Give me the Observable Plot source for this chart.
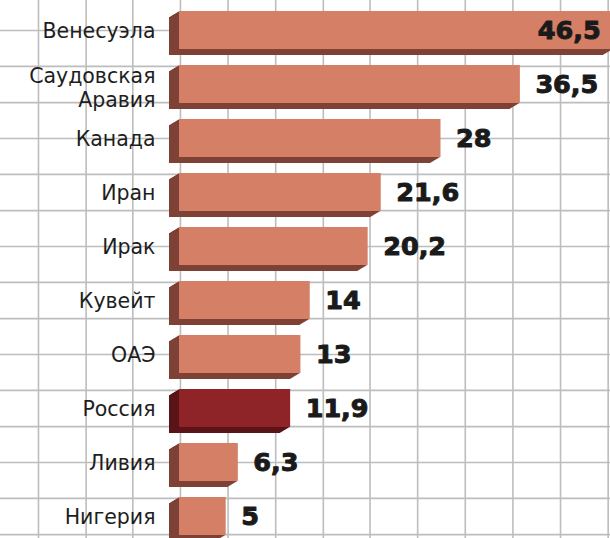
<!DOCTYPE html>
<html>
<head>
<meta charset="utf-8">
<script src="https://cdn.jsdelivr.net/npm/d3@7"></script>
<script src="https://cdn.jsdelivr.net/npm/@observablehq/plot@0.6"></script>
<style>
  html, body { margin: 0; padding: 0; background: #fff; overflow: hidden; }
  #chart svg { display: block; }
</style>
</head>
<body>
<div id="chart"></div>
<script>
// ---- data ----
const categories = ["Венесуэла", "Саудовская\nАравия", "Канада", "Иран", "Ирак", "Кувейт", "ОАЭ", "Россия", "Ливия", "Нигерия"];
const values = [46.5, 36.5, 28, 21.6, 20.2, 14, 13, 11.9, 6.3, 5];
const highlight = "Россия";
// background graph-paper lines, in value units
const gridXTicks = [-15.1, -10.0, -5.0, 0.1, 5.2, 10.3, 15.4, 20.4, 25.5, 30.6, 35.7, 40.8, 45.9];

// ---- styling ----
const FRONT = "#d47f66", SIDE = "#7d4135";
const FRONT_HI = "#8e2428", SIDE_HI = "#5a1418";
const GRID = "#bdbdbd";
const STEP = 54.5;

const data = categories.map((c, i) => ({name: c, value: values[i], hi: c === highlight}));
const even = categories.filter((d, i) => i % 2 === 0);
const odd = categories.filter((d, i) => i % 2 === 1);

const fmt = v => String(v).replace(".", ",");

const gridH = {x1: -25, x2: 50, stroke: GRID, strokeWidth: 1.6};
const shadowMarks = [];
for (let k = 1; k <= 10; k++) {
  shadowMarks.push(Plot.barX(data, {
    x: "value", y: "name", dx: -k, dy: 0.6 * k,
    fill: d => d.hi ? SIDE_HI : SIDE
  }));
}

const labelOpts = {
  y: d => d, text: d => d, frameAnchor: "left", textAnchor: "end", dx: -24,
  fontFamily: "'DejaVu Sans', sans-serif", fontSize: 20.5, fill: "#1e1e1e", lineHeight: 1.14
};
const valueOpts = {
  x: "value", y: "name", text: d => fmt(d.value),
  fontFamily: "'DejaVu Sans', sans-serif", fontWeight: "bold", fontSize: 25.5,
  fill: "#1a1a1a", stroke: "#1a1a1a", strokeWidth: 1
};

const chart = Plot.plot({
  width: 610,
  height: 538,
  marginLeft: 179,
  marginRight: 0,
  marginTop: 9,
  marginBottom: 0.4,
  style: {fontFamily: "'DejaVu Sans', sans-serif", background: "#fff"},
  x: {domain: [0, 46.15], axis: null},
  y: {domain: categories, paddingInner: 0.3, paddingOuter: 0, axis: null},
  marks: [
    Plot.ruleX(gridXTicks, {stroke: GRID, strokeWidth: 1.6, insetTop: -12, insetBottom: -4}),
    Plot.ruleY(even, gridH),
    Plot.ruleY(odd, {...gridH, dy: -STEP / 3}),
    Plot.ruleY(odd, {...gridH, dy: STEP / 3}),
    Plot.text(categories.filter(d => !d.includes("\n")), labelOpts),
    Plot.text(categories.filter(d => d.includes("\n")), {...labelOpts, dy: 3}),
    ...shadowMarks,
    Plot.barX(data, {x: "value", y: "name", fill: d => d.hi ? FRONT_HI : FRONT}),
    Plot.text(data.filter(d => d.value < 40), {...valueOpts, textAnchor: "start", dx: 15}),
    Plot.text(data.filter(d => d.value >= 40), {...valueOpts, textAnchor: "end", dx: -13})
  ]
});
document.getElementById("chart").appendChild(chart);
</script>
</body>
</html>
